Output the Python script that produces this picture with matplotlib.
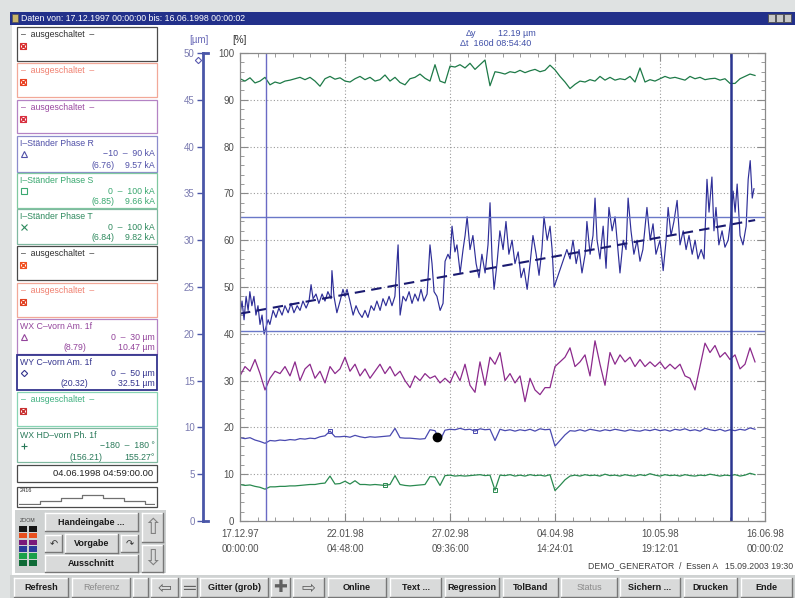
import numpy as np
import matplotlib
matplotlib.use("Agg")
import matplotlib.pyplot as plt
from matplotlib.patches import Rectangle

plt.rcParams['font.family'] = ['Liberation Sans', 'DejaVu Sans']

# ---------------- data ----------------
x_tick_labels = ["17.12.97\n00:00:00", "22.01.98\n04:48:00", "27.02.98\n09:36:00",
                 "04.04.98\n14:24:01", "10.05.98\n19:12:01", "16.06.98\n00:00:02"]
span_days = 181.0                      # 17.12.1997 -> 16.06.1998
pct_ticks = list(range(0, 101, 10))
um_ticks = list(range(0, 51, 5))
cursor_days = [8.84, 169.21]           # 24.12.1997 20:04 / 04.06.1998 04:59
wy_cursor_um = [20.32, 32.51]
wy_scale_um = 50.0

# WY C-vorn Am. 1f  (% of 0-50 um)
wy_t = [0.0,0.7,1.4,2.1,2.8,3.4,4.1,4.8,5.5,6.2,
        6.9,7.6,8.3,9.0,9.7,10.3,11.4,12.4,13.4,14.5,
        15.5,16.6,17.6,18.6,19.7,20.7,21.7,22.8,23.8,24.5,
        25.2,26.2,27.2,28.3,29.3,30.3,31.4,31.7,32.4,33.4,
        34.5,35.5,36.2,36.9,37.9,39.0,40.0,41.0,42.1,43.1,
        44.1,45.2,46.2,47.2,48.3,49.3,50.3,51.4,52.4,53.4,
        54.5,55.2,56.2,57.2,58.3,59.3,60.3,61.4,62.4,63.4,
        64.5,65.5,66.2,66.9,67.9,69.0,70.0,70.7,71.7,72.4,
        73.1,74.1,74.8,75.9,76.9,77.6,78.3,79.3,80.3,81.4,
        82.4,83.4,84.5,85.5,86.2,86.9,87.6,88.6,89.6,90.7,
        91.7,92.7,93.8,94.8,95.9,96.9,97.9,99.0,100.0,101.0,
        102.1,103.1,104.1,104.8,105.9,106.9,107.6,108.3,
        112.7,113.8,114.8,115.9,116.9,117.9,119.0,119.6,120.7,121.7,
        122.4,123.1,124.1,125.2,126.2,127.2,128.3,129.3,130.3,131.0,
        132.1,133.1,133.8,134.8,135.8,136.9,137.9,138.9,140.3,141.4,
        142.4,143.4,144.8,145.9,146.9,147.6,148.6,149.6,150.7,151.7,
        152.8,153.8,154.8,155.9,156.9,157.9,159.0,160.0,161.0,161.7,
        162.7,163.4,164.1,165.1,166.2,167.2,168.3,169.3,170.0,170.7,
        171.4,172.4,173.4,174.5,175.2,175.9,176.6,177.2]
wy_v = [44,47,43,48,45,49,46,48,44,46,
        42,44,40,41.5,43,42,45,43.5,45.5,44,
        46,44.5,46.5,44.5,46,45,47,45.5,47,50.5,
        47.5,48.5,46.5,48.5,47,49,47.5,53.5,48,44.5,
        47,49.5,48,49.5,47,44,46,44.5,43.5,45,
        43.5,46,45,47,45,47.5,46,48,46,48,
        59,44,48,47,49,46.5,48.5,47,49.5,47,
        48.5,59,55,49,48,45,46.5,55.5,57,56,
        63,57.5,59,53,58,61,65,58,61,55,
        52,57,53,59,68,56,49.5,55,62,58,
        64,57,60,55,57.5,52,54,49.5,55,61,
        57,52.5,58,65,60,63,58,50,
        58,56,60,55,58,53,57,64,57,61,
        69,60,56,63,54,67,62,65,58,53,
        60,58,69,62,57,60,55.5,58,67,60,
        63.5,57,60,53.5,60,67,61,64,68.5,59,
        62,58,61,57,60,56,58,56,73,66,
        73.5,62,67,59,62,58.5,60,65,70.5,66,
        72,61,59,63,73,77,69,71]
wy_reg_t = [0.0, 177.6]
wy_reg_v = [44.3, 64.3]

# samples on a regular grid (one value every 181/105 days)
grid_step_days = span_days / 105.0

# WX C-vorn Am. 1f  (% of 0-30 um)
wxc_v = [31,33,32,34.5,31.5,28,30.5,32,31.5,33,
         31,34,30,32.5,33.5,30.5,32,29.5,33,31.5,
         32.5,35,32,33.5,31,32.5,30.5,32,33.5,31.5,
         33,31,32,30,28.5,31,30,31.5,30.5,31,
         29.5,30.5,29.5,32,30,33.5,29,27.5,34,29,
         35,33.5,36,30,31.5,29.5,31,25.5,30.5,28,
         27,28.5,28.5,33,34,35,37,33,34,35.5,
         31,38.5,33.5,29,36,33.5,35.5,34,35,33,
         34.5,33,34,33,34,32.5,33.5,32.5,33.5,31,
         30.5,28,33,38,36,37.5,35,36,34.5,35.5,
         32.5,33.5,37,34]

# WX HD-vorn Ph. 1f  (% of -180..180 deg)
wxhd_v = [94.5,94,94.7,93.6,94,94.8,93.2,93.8,93.5,94,
          94.2,94.5,94.8,94.3,94.8,94,92.9,94.5,95,94.4,
          94.7,94,93.8,94.5,95,94.3,94.8,94,94.3,95.3,
          94,94.8,93.7,93.2,94.5,94.8,95.5,94.6,94,97.5,
          94,93.6,97.2,97,97.5,96.8,97.8,96.5,97.5,98.5,
          93,96,95.8,95.5,96,95.8,96.3,95.8,96.2,96.5,
          96,96.3,97.4,96.4,95,93.8,92.4,93.3,94,93.8,
          94.3,94,95,94.2,94.8,94.2,94.5,94.3,95,93.8,
          96.8,93.8,94.3,94,94.5,95,94.6,94.8,94.5,94.2,
          95,94.5,94.8,94.3,94.5,94.6,94.2,94.5,93.5,93.5,
          94.5,95,95.5,95.2]

# I-Staender Phase R  (% of -10..90 kA)
phr_v = [17.8,17.6,17.8,17.3,17.0,16.6,17.2,17.1,17.3,17.2,
         17.4,17.3,17.6,17.5,17.7,17.6,18.0,18.2,19.2,18.0,
         18.0,18.1,17.9,18.3,18.0,17.8,18.0,17.9,18.0,18.1,
         18.2,19.8,17.8,17.7,17.7,17.6,17.5,17.6,19.5,19.3,
         17.2,19.4,19.6,19.5,19.8,19.5,19.6,19.2,19.7,19.5,
         19.6,17.2,19.6,19.3,19.5,19.2,19.5,19.3,19.6,19.2,
         19.7,19.5,19.6,16.0,17.2,18.4,19.3,19.2,19.5,19.2,
         19.6,19.4,19.2,19.5,19.3,19.6,19.4,19.2,19.5,19.3,
         19.2,19.5,19.3,19.6,19.3,19.5,19.2,19.6,19.4,19.7,
         19.3,19.5,19.2,19.8,19.5,19.3,19.6,19.2,19.5,19.3,
         19.6,19.4,19.9,19.6]

# I-Staender Phase S  (% of 0..100 kA)
phs_v = [7.8,7.6,7.7,7.4,7.2,6.8,7.3,7.3,7.4,7.4,
         7.5,7.5,7.6,7.7,7.8,7.8,8.0,8.1,9.6,7.9,
         8.0,8.5,7.9,8.6,7.8,7.8,7.7,7.8,7.7,7.6,
         7.8,9.7,7.8,7.6,7.5,7.6,7.7,7.8,9.5,9.4,
         7.6,9.7,9.8,9.6,9.7,9.6,9.7,9.8,9.9,9.7,
         9.8,6.6,9.8,9.7,9.9,9.6,9.8,9.6,9.9,9.7,
         9.8,9.6,9.9,6.5,7.6,8.8,9.6,9.8,9.6,9.9,
         9.7,9.8,9.6,10.0,9.7,9.8,9.6,9.9,9.7,9.6,
         9.9,9.7,10.1,9.8,9.6,9.9,9.7,9.8,9.6,9.9,
         9.7,9.6,9.8,9.7,10.0,9.8,9.6,9.8,9.7,9.9,
         9.6,9.8,10.2,9.9]

phr_marks = [18, 47]
phs_marks = [29, 51]
dot_t, dot_v = [67.9], [18.0]

step_levels = [0, 0, 1, 1, 2, 2, 3, 3, 2, 2, 1, 1, 0, 0]

zoom_colors = ['#151515', '#e8501e', '#7a1a7a', '#2a3a9a', '#1aa04a', '#0e6a36']

# ---------------- figure ----------------
W, H = 795, 598
fig = plt.figure(figsize=(W / 100, H / 100), dpi=100)
fig.patch.set_facecolor('#dfe2e2')

ui = fig.add_axes([0, 0, 1, 1])
ui.set_autoscale_on(False)
ui.set_xlim(0, W)
ui.set_ylim(H, 0)
ui.axis('off')

FS = 6.3

# window frame
ui.add_patch(Rectangle((12, 25), W - 12, 550, fc='white', ec='none'))
ui.add_patch(Rectangle((10, 12), W - 10, 13, fc='#22308a', ec='none'))
ui.text(21, 18.7, "Daten von: 17.12.1997 00:00:00 bis: 16.06.1998 00:00:02",
        color='white', fontsize=6.3, va='center', ha='left')
ui.add_patch(Rectangle((12, 14), 6, 8, fc='#c9b46a', ec='#555555', lw=0.5))
for bx in (768, 776, 784):
    ui.add_patch(Rectangle((bx, 14), 7, 8, fc='#c8c8c8', ec='#505050', lw=0.6))

# ---------------- legend panels ----------------
def panel(y0, y1, ec, lw=0.9):
    ui.add_patch(Rectangle((17, y0), 140, y1 - y0, fc='white', ec=ec, lw=lw))

def off_marker(x, y, c):
    ui.plot([x], [y], marker='s', mfc='none', mec=c, ms=4.2, mew=0.8)
    ui.plot([x], [y], marker='x', color=c, ms=4.2, mew=1.0)

off_panels = [(27, 61, '#4a4a4a', '#303030', '#d83030'),
              (63, 97, '#f2a898', '#f08070', '#e84020'),
              (100, 133, '#b483c4', '#9a4aa0', '#d83040'),
              (246, 280, '#4a4a4a', '#303030', '#f05020'),
              (283, 317, '#f2a898', '#f08070', '#e04020'),
              (392, 426, '#88d4b4', '#40b080', '#c83030')]
for y0, y1, ec, tc, mc in off_panels:
    panel(y0, y1, ec)
    ui.text(21, y0 + 7.5, "–  ausgeschaltet  –", color=tc, fontsize=FS, va='center')
    off_marker(23, y0 + 19, mc)

sig_panels = [
    (136, 172, '#8c8ccc', '#5050a8', "I–Ständer Phase R", '^', "−10  –  90 kA", "(6.76)", 115, "9.57 kA"),
    (173, 208, '#80c8a0', '#3aa870', "I–Ständer Phase S", 's', "0  –  100 kA", "(6.85)", 115, "9.66 kA"),
    (209, 244, '#80b8a0', '#2f8a5e', "I–Ständer Phase T", 'x', "0  –  100 kA", "(6.84)", 115, "9.82 kA"),
    (319, 354, '#b483c4', '#93449b', "WX C–vorn Am. 1f", '^', "0  –  30 µm", "(8.79)", 86, "10.47 µm"),
    (355, 390, '#34348e', '#34348e', "WY C–vorn Am. 1f", 'D', "0  –  50 µm", "(20.32)", 88, "32.51 µm"),
    (428, 462, '#80b8a0', '#2a7a5a', "WX HD–vorn Ph. 1f", '+', "−180  –  180 °", "(156.21)", 103, "155.27°"),
]
for y0, y1, ec, tc, title, mk, rng, prev, px, cur in sig_panels:
    panel(y0, y1, ec, lw=1.3 if ec == '#34348e' else 0.9)
    ui.text(20, y0 + 7.5, title, color=tc, fontsize=FS, va='center')
    ui.plot([24], [y0 + 18], marker=mk, mfc='none', mec=tc, color=tc,
            ms=4.5 if mk != 'D' else 3.2, mew=0.8)
    ui.text(155, y0 + 18, rng, color=tc, fontsize=FS, va='center', ha='right')
    ui.text(px, y0 + 29, prev, color=tc, fontsize=FS, va='center', ha='right')
    ui.text(155, y0 + 29, cur, color=tc, fontsize=FS, va='center', ha='right')

# date box
panel(465, 482, '#4a4a4a')
ui.text(153, 473.5, "04.06.1998 04:59:00.00", color='#202020', fontsize=6.8,
        va='center', ha='right')

# step box
panel(487, 507, '#4a4a4a')
ui.text(20, 491, "2416", color='#303030', fontsize=4, va='center')
sax = fig.add_axes([19 / W, 1 - 505 / H, 136 / W, 15 / H])
sax.step(np.arange(len(step_levels)), step_levels, where='post', color='#707070', lw=0.9)
sax.set_xlim(0, len(step_levels) - 1)
sax.set_ylim(-0.3, 4.5)
sax.axis('off')

# ---------------- buttons ----------------
def button(x0, y0, x1, y1, label='', color='#1a1a1a', weight='bold', fs=6.5, face='#d9dada'):
    ui.add_patch(Rectangle((x0, y0), x1 - x0, y1 - y0, fc=face, ec='none'))
    ui.plot([x0, x1], [y0, y0], color='white', lw=1)
    ui.plot([x0, x0], [y0, y1], color='white', lw=1)
    ui.plot([x0, x1], [y1, y1], color='#777777', lw=1)
    ui.plot([x1, x1], [y0, y1], color='#777777', lw=1)
    if label:
        ui.text((x0 + x1) / 2, (y0 + y1) / 2 + 0.5, label, ha='center', va='center',
                color=color, fontsize=fs, fontweight=weight)

# left bottom control panel
ui.add_patch(Rectangle((15, 510), 151, 63, fc='#cfd2d2', ec='none'))
ui.text(27.5, 521, "ZOOM", fontsize=3.8, color='#404040', ha='center', va='center')
for i, c in enumerate(zoom_colors):
    for cx in (18.5, 28.5):
        ui.add_patch(Rectangle((cx, 526 + i * 6.8), 8.5, 5.6, fc=c, ec='none'))
button(45, 513, 138, 531, "Handeingabe ...")
button(45, 535, 62, 552, "↶", color='#303030', weight='normal', fs=7)
button(65, 534, 118, 553, "Vorgabe")
button(121, 535, 138, 552, "↷", color='#303030', weight='normal', fs=7)
button(45, 555, 138, 572, "Ausschnitt")
button(142, 513, 163, 542, "⇧", color='#808080', weight='normal', fs=16)
button(142, 545, 163, 572, "⇩", color='#808080', weight='normal', fs=16)

# bottom bar
ui.add_patch(Rectangle((10, 575), W - 10, H - 575, fc='#cfd2d2', ec='none'))
bottom_buttons = [("Refresh", 14, 68, '#1a1a1a', 'bold'),
                  ("Referenz", 72, 130, '#8a8a8a', 'normal'),
                  ("", 133, 148, '#1a1a1a', 'bold'),
                  ("⇦", 151, 178, '#606060', 'normal'),
                  ("═", 181, 197, '#606060', 'normal'),
                  ("Gitter (grob)", 200, 268, '#1a1a1a', 'bold'),
                  ("✚", 271, 290, '#606060', 'normal'),
                  ("⇨", 293, 324, '#606060', 'normal'),
                  ("Online", 328, 386, '#1a1a1a', 'bold'),
                  ("Text ...", 390, 441, '#1a1a1a', 'bold'),
                  ("Regression", 445, 499, '#1a1a1a', 'bold'),
                  ("TolBand", 503, 558, '#1a1a1a', 'bold'),
                  ("Status", 561, 617, '#8a8a8a', 'normal'),
                  ("Sichern ...", 620, 680, '#1a1a1a', 'bold'),
                  ("Drucken", 684, 737, '#1a1a1a', 'bold'),
                  ("Ende", 741, 792, '#1a1a1a', 'bold')]
for lab, x0, x1, col, wt in bottom_buttons:
    fs = 12 if lab in ("⇦", "⇨", "═", "✚") else 6.5
    button(x0, 578, x1, 597, lab, color=col, weight=wt, fs=fs)

ui.text(793, 566, "DEMO_GENERATOR  /  Essen A   15.09.2003 19:30", ha='right', va='center',
        fontsize=6.3, color='#404040')

# header texts above plot
ui.text(199, 40, "[µm]", color='#6a6ab8', fontsize=7, ha='center', va='center')
ui.text(239, 40, "[%]", color='#303030', fontsize=7, ha='center', va='center')
ui.plot([198], [60], marker='D', mfc='none', mec='#5a5ab0', ms=3.2, mew=0.8)
ui.text(466, 34, "Δy", color='#4050a8', fontsize=6.5, ha='left', va='center')
ui.text(536, 34, "12.19 µm", color='#4050a8', fontsize=6.5, ha='right', va='center')
ui.text(460, 44, "Δt  160d 08:54:40", color='#4050a8', fontsize=6.5, ha='left', va='center')

# ---------------- um axis ----------------
axu = fig.add_axes([203 / W, 1 - 521 / H, 0.0005, 468 / H])
axu.set_ylim(0, wy_scale_um)
axu.set_yticks(um_ticks)
axu.set_xticks([])
for s in ('top', 'right', 'bottom'):
    axu.spines[s].set_visible(False)
axu.spines['left'].set_color('#4a56a8')
axu.spines['left'].set_linewidth(2.0)
axu.tick_params(axis='y', direction='out', length=4, width=1, color='#4a56a8',
                labelsize=7, labelcolor='#7a7ab0', pad=2)
axu.patch.set_alpha(0)
ui.plot([203, 208], [53, 53], color='#4a56a8', lw=2)
ui.plot([203, 208], [521, 521], color='#4a56a8', lw=2)

# ---------------- main plot ----------------
ax = fig.add_axes([240 / W, 1 - 521 / H, 525 / W, 468 / H])
ax.set_xlim(0, span_days)
ax.set_ylim(0, 100)
major_x = np.linspace(0, span_days, 6)
ax.set_xticks(major_x)
ax.set_xticklabels(x_tick_labels)
ax.set_xticks(np.linspace(0, span_days, 31), minor=True)
ax.set_yticks(pct_ticks)
ax.set_yticks(range(0, 101, 2), minor=True)
ax.tick_params(which='both', direction='in', top=True, right=True, color='#8a8a8a')
ax.tick_params(which='major', length=6, width=0.8)
ax.tick_params(which='minor', length=3, width=0.6)
ax.tick_params(axis='x', labelsize=7, labelcolor='#505050', pad=6)
ax.tick_params(axis='y', labelsize=7, labelcolor='#505050', pad=4)
for s in ax.spines.values():
    s.set_color('#8a8a8a')
    s.set_linewidth(0.9)
for lab in ax.get_xticklabels():
    lab.set_linespacing(1.6)

for v in pct_ticks[1:-1]:
    ax.axhline(v, color='#9a9a9a', ls=(0, (1, 2)), lw=0.8, zorder=0.5)
for d in major_x[1:-1]:
    ax.axvline(d, color='#9a9a9a', ls=(0, (1, 2)), lw=0.8, zorder=0.5)

grid_t = np.arange(len(wxc_v)) * grid_step_days

ax.plot(grid_t, wxhd_v, color='#1e7a48', lw=0.9)
ax.plot(grid_t, wxc_v, color='#8c2a8c', lw=0.9)
ax.plot(grid_t, phr_v, color='#4a4ab0', lw=0.9, marker='s', markevery=phr_marks,
        mfc='none', ms=3.5, mew=0.7)
ax.plot(grid_t, phs_v, color='#2a8a50', lw=0.9, marker='s', markevery=phs_marks,
        mfc='none', ms=3.5, mew=0.7)
ax.plot(wy_t, wy_v, color='#2e2e98', lw=0.85)
ax.plot(wy_reg_t, wy_reg_v, color='#1a1a70', lw=1.5, ls=(0, (5, 3)))
ax.plot(dot_t, dot_v, 'o', color='black', ms=6)

for um in wy_cursor_um:
    ax.axhline(um / wy_scale_um * 100, color='#6a78c8', lw=1.0)
ax.axvline(cursor_days[0], color='#6a6ac4', lw=1.0)
ax.axvline(cursor_days[1], color='#2a3590', lw=1.8)

fig.savefig("out.png", dpi=100, facecolor=fig.get_facecolor())
